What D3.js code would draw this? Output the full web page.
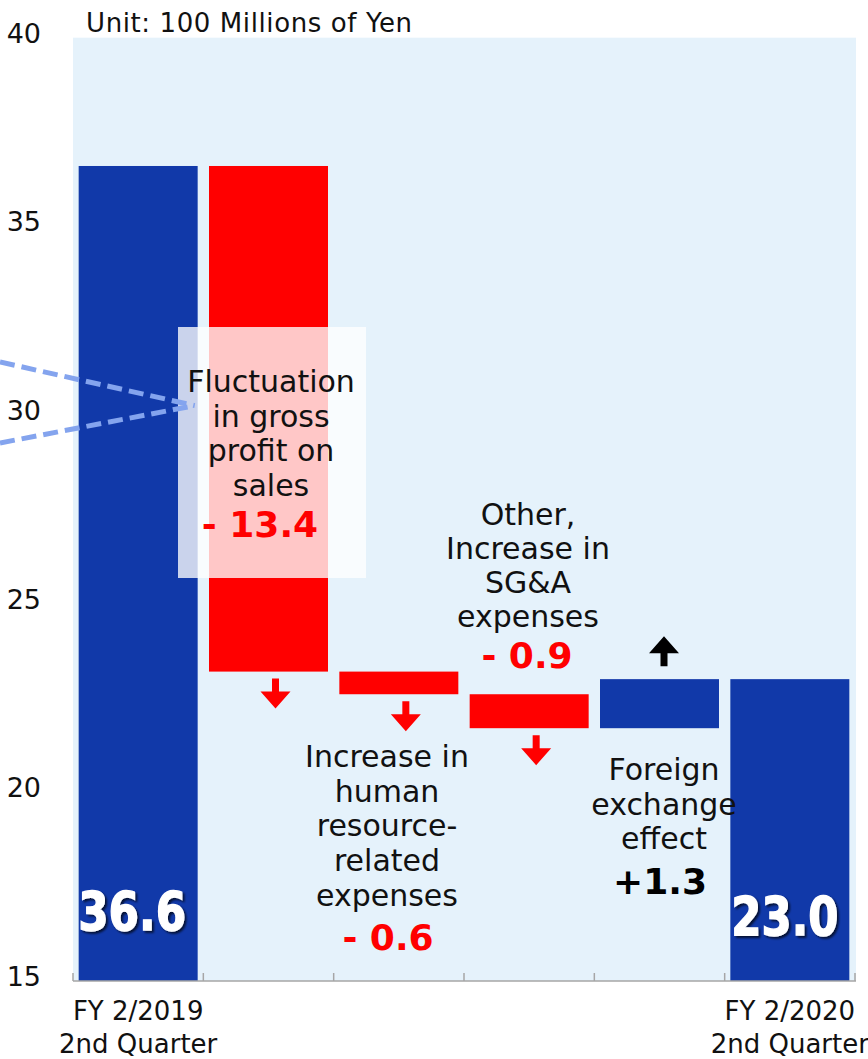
<!DOCTYPE html>
<html>
<head>
<meta charset="utf-8">
<script src="https://cdn.jsdelivr.net/npm/d3@7"></script>
<style>
  html, body { margin: 0; padding: 0; background: #fff; }
  svg { display: block; font-family: "DejaVu Sans", Verdana, sans-serif; }
</style>
</head>
<body>
<svg id="chart" width="868" height="1059"></svg>
<script>
// ---- data ----
const categories = ["start", "gross", "hr", "other", "fx", "end"];
const startValue = 36.6;
const deltas = [-13.4, -0.6, -0.9, 1.3];
const endValue = 23.0;
const yTicks = [15, 20, 25, 30, 35, 40];
const xLabelFirst = ["FY 2/2019", "2nd Quarter"];
const xLabelLast = ["FY 2/2020", "2nd Quarter"];
const unitLabel = "Unit: 100 Millions of Yen";
const grossLabel = ["Fluctuation", "in gross", "profit on", "sales"];
const grossValue = "- 13.4";
const hrLabel = ["Increase in", "human", "resource-", "related", "expenses"];
const hrValue = "- 0.6";
const otherLabel = ["Other,", "Increase in", "SG&A", "expenses"];
const otherValue = "- 0.9";
const fxLabel = ["Foreign", "exchange", "effect"];
const fxValue = "+1.3";
const startLabel = "36.6";
const endLabel = "23.0";

// ---- build waterfall ----
const bars = [];
bars.push({cat: categories[0], lo: 15, hi: startValue, kind: "total"});
let run = startValue;
deltas.forEach((d, i) => {
  const next = +(run + d).toFixed(1);
  bars.push({cat: categories[i + 1], lo: Math.min(run, next), hi: Math.max(run, next), kind: d < 0 ? "neg" : "pos"});
  run = next;
});
bars.push({cat: categories[5], lo: 15, hi: endValue, kind: "total"});

// ---- layout ----
const svg = d3.select("#chart");
const plotL = 73, plotR = 856, plotT = 37.7, plotB = 981;
const x = d3.scaleBand().domain(categories).range([73, 855]).paddingInner(0.087).paddingOuter(0.0435);
const y = d3.scaleLinear().domain([15, 40]).range([plotB, plotT]);

const BLUE = "#1139A9", RED = "#FF0000";

const defs = svg.append("defs");
const f = defs.append("filter").attr("id", "shadow").attr("x", "-10%").attr("y", "-10%").attr("width", "130%").attr("height", "130%");
f.append("feDropShadow").attr("dx", 2).attr("dy", 2).attr("stdDeviation", 1.2)
  .attr("flood-color", "#000").attr("flood-opacity", 0.7);

// background
svg.append("rect").attr("x", plotL).attr("y", plotT).attr("width", plotR - plotL).attr("height", plotB - plotT)
  .attr("fill", "#E5F2FB");

// y tick labels
svg.append("g").selectAll("text").data(yTicks).join("text")
  .attr("x", 41).attr("y", d => y(d) + 5)
  .attr("text-anchor", "end").attr("font-size", 27).attr("fill", "#111")
  .text(d => d);

// unit label
svg.append("text").attr("x", 86).attr("y", 32).attr("font-size", 26).attr("letter-spacing", 0.6)
  .attr("fill", "#111").text(unitLabel);

// bars
svg.append("g").selectAll("rect").data(bars).join("rect")
  .attr("x", d => x(d.cat))
  .attr("width", x.bandwidth())
  .attr("y", d => y(d.hi))
  .attr("height", d => y(d.lo) - y(d.hi))
  .attr("fill", d => d.kind === "neg" ? RED : BLUE);

// x axis line and ticks
const axisG = svg.append("g");
axisG.append("line").attr("x1", 73).attr("x2", 856).attr("y1", plotB).attr("y2", plotB)
  .attr("stroke", "#A6A6A6").attr("stroke-width", 1.5);
const tickXs = d3.range(categories.length + 1).map(i => 73 + i * x.step());
axisG.selectAll("line.tick").data(tickXs).join("line").attr("class", "tick")
  .attr("x1", d => d).attr("x2", d => d).attr("y1", plotB - 8).attr("y2", plotB)
  .attr("stroke", "#A6A6A6").attr("stroke-width", 1.5);

// x category labels
function multiLine(lines, cx, baseline, lh, size, fill, weight) {
  const t = svg.append("text").attr("text-anchor", "middle").attr("font-size", size)
    .attr("fill", fill).attr("font-weight", weight || "normal");
  lines.forEach((l, i) => t.append("tspan").attr("x", cx).attr("y", baseline + i * lh).text(l));
  return t;
}
multiLine(xLabelFirst, x(categories[0]) + x.bandwidth() / 2, 1020, 33, 26, "#111");
multiLine(xLabelLast, x(categories[5]) + x.bandwidth() / 2, 1020, 33, 26, "#111");

// translucent white callout box
svg.append("rect").attr("x", 178).attr("y", 327).attr("width", 188).attr("height", 251)
  .attr("fill", "#fff").attr("fill-opacity", 0.78);

// dashed callout lines
const tipX = x(categories[0]) + x.bandwidth() - 3, tipY = y(30.25);
svg.append("g").selectAll("line").data([362, 443]).join("line")
  .attr("x1", 0).attr("y1", d => d).attr("x2", tipX).attr("y2", tipY)
  .attr("stroke", "#84A4EE").attr("stroke-width", 5).attr("stroke-dasharray", "15,7");

// arrows
function downArrow(cx, top) {
  const p = d3.path();
  p.moveTo(cx - 3.5, top); p.lineTo(cx + 3.5, top); p.lineTo(cx + 3.5, top + 13);
  p.lineTo(cx + 15, top + 13); p.lineTo(cx, top + 30); p.lineTo(cx - 15, top + 13);
  p.lineTo(cx - 3.5, top + 13); p.closePath();
  return p.toString();
}
function upArrow(cx, bottom) {
  const p = d3.path();
  p.moveTo(cx - 3.5, bottom); p.lineTo(cx + 3.5, bottom); p.lineTo(cx + 3.5, bottom - 13);
  p.lineTo(cx + 15, bottom - 13); p.lineTo(cx, bottom - 30); p.lineTo(cx - 15, bottom - 13);
  p.lineTo(cx - 3.5, bottom - 13); p.closePath();
  return p.toString();
}
bars.forEach(b => {
  const cx = x(b.cat) + x.bandwidth() / 2;
  if (b.kind === "neg") svg.append("path").attr("d", downArrow(cx + 7, y(b.lo) + 7)).attr("fill", RED);
  if (b.kind === "pos") svg.append("path").attr("d", upArrow(cx + 4.5, y(b.hi) - 13)).attr("fill", "#000");
});

// annotation text
multiLine(grossLabel, 271, 392, 34.5, 30, "#111");
svg.append("text").attr("x", 260).attr("y", 537).attr("text-anchor", "middle").attr("font-size", 36)
  .attr("font-weight", "bold").attr("fill", RED).text(grossValue);

multiLine(otherLabel, 528, 525, 34, 30, "#111");
svg.append("text").attr("x", 527).attr("y", 668).attr("text-anchor", "middle").attr("font-size", 36)
  .attr("font-weight", "bold").attr("fill", RED).text(otherValue);

multiLine(hrLabel, 387, 767, 34.7, 30, "#111");
svg.append("text").attr("x", 388).attr("y", 950).attr("text-anchor", "middle").attr("font-size", 36)
  .attr("font-weight", "bold").attr("fill", RED).text(hrValue);

multiLine(fxLabel, 664, 780, 34.5, 30, "#111");
svg.append("text").attr("x", 660).attr("y", 894).attr("text-anchor", "middle").attr("font-size", 36)
  .attr("font-weight", "bold").attr("fill", "#000").text(fxValue);

// big value labels
svg.append("text").attr("x", x(categories[0]) - 0.5).attr("y", 930).attr("font-size", 53)
  .attr("font-weight", "bold").attr("fill", "#fff").attr("stroke", "#fff").attr("stroke-width", 1.4)
  .attr("filter", "url(#shadow)")
  .attr("textLength", 108).attr("lengthAdjust", "spacingAndGlyphs").text(startLabel);
svg.append("text").attr("x", x(categories[5]) + 1).attr("y", 935).attr("font-size", 53)
  .attr("font-weight", "bold").attr("fill", "#fff").attr("stroke", "#fff").attr("stroke-width", 1.4)
  .attr("filter", "url(#shadow)")
  .attr("textLength", 107).attr("lengthAdjust", "spacingAndGlyphs").text(endLabel);
</script>
</body>
</html>
